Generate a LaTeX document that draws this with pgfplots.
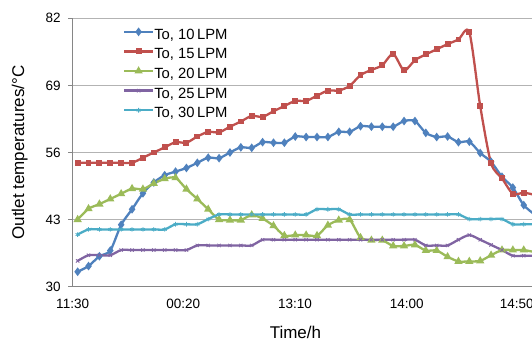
\documentclass[border=0pt]{standalone}
\usepackage{pgfplots}
\usepackage{pgfplotstable}
\pgfplotsset{compat=1.18}
\usepackage{fontspec}
\setmainfont{Liberation Sans}
\definecolor{cA}{HTML}{4F81BD}
\definecolor{cB}{HTML}{C0504D}
\definecolor{cC}{HTML}{9BBB59}
\definecolor{cD}{HTML}{8064A2}
\definecolor{cE}{HTML}{4BACC6}
\definecolor{axisgray}{HTML}{868686}
\definecolor{gridgray}{HTML}{B3B3B3}
\pgfplotstableread{
i  a     b     c     d     e
0  32.9  54.0  43.0  35.0  40.1
1  34.0  54.0  45.1  36.1  41.1
2  35.9  54.0  46.0  36.1  41.1
3  37.0  54.0  47.0  36.1  41.1
4  42.0  54.0  48.0  37.1  41.1
5  45.0  54.0  49.0  37.1  41.1
6  48.1  55.0  48.9  37.1  41.1
7  50.2  56.0  50.0  37.1  41.1
8  51.6  57.0  50.9  37.1  41.1
9  52.3  58.0  51.1  37.1  42.1
10 53.0  57.9  48.9  37.1  42.1
11 54.0  59.1  47.0  38.0  42.1
12 55.0  60.0  45.0  38.0  43.1
13 54.9  59.9  43.0  38.0  44.0
14 56.0  61.0  42.9  38.0  44.0
15 57.0  62.0  42.9  38.0  44.0
16 56.9  63.1  43.9  38.0  44.0
17 58.0  62.9  43.2  39.1  44.0
18 57.9  64.0  41.8  39.1  44.0
19 57.9  65.0  39.9  39.1  44.0
20 59.1  66.0  40.0  39.1  44.0
21 59.0  66.0  40.0  39.1  44.0
22 59.0  67.0  39.9  39.1  45.0
23 59.0  68.0  41.9  39.1  45.0
24 60.0  68.0  42.9  39.1  45.0
25 60.0  68.9  43.0  39.1  44.0
26 61.1  71.0  39.5  39.1  44.0
27 61.0  72.0  39.0  39.1  44.0
28 61.0  72.9  39.0  39.1  44.0
29 61.0  75.1  37.9  39.1  44.0
30 62.1  71.9  37.9  39.1  44.0
31 62.1  73.9  38.1  39.1  44.0
32 59.8  75.0  37.0  38.0  44.0
33 59.0  76.0  37.0  38.0  44.0
34 59.1  77.0  35.8  38.0  44.0
35 58.0  77.9  34.9  39.1  44.0
36 58.1  79.3  34.9  40.0  43.1
37 55.9  65.0  35.0  39.1  43.1
38 54.2  53.9  36.1  38.1  43.1
39 51.3  51.0  37.1  37.1  43.1
40 49.2  48.0  37.1  36.0  42.1
41 45.8  48.2  37.1  36.0  42.1
42 44.0  47.8  36.7  36.0  42.1
}\datatable
\begin{document}
\begin{tikzpicture}
\useasboundingbox (0pt,0pt) rectangle (532pt,343pt);
\clip (0pt,0pt) rectangle (532pt,343pt);
\begin{axis}[
  at={(72.2pt,56.3pt)}, anchor=south west,
  scale only axis, width=459.8pt, height=268.4pt,
  xmin=-0.5, xmax=41.76, ymin=30, ymax=82,
  ytick={30,43,56,69,82},
  xtick={-0.46,9.71,19.98,30.24,40.35},
  xticklabels={11:30,00:20,13:10,14:00,14:50},
  axis x line*=bottom, axis y line*=left,
  every outer x axis line/.append style={-},
  every outer y axis line/.append style={-},
  axis line style={draw=axisgray, line width=0.9pt},
  ymajorgrids, grid style={gridgray, line width=0.9pt},
  tick align=outside, major tick length=4pt,
  ytick style={axisgray, line width=0.9pt},
  xtick style={draw=none},
  /pgf/number format/assume math mode=true,
  tick label style={font=\fontsize{13.5}{16}\selectfont},
  yticklabel style={xshift=-4pt},
  xticklabel style={yshift=-5pt},
  xlabel={Time/h}, ylabel={Outlet temperatures/°C},
  every axis x label/.style={at={(axis description cs:0.4855,-0.169)}, anchor=center, font=\fontsize{17}{20}\selectfont},
  every axis y label/.style={at={(axis description cs:-0.114,0.5)}, anchor=center, rotate=90, font=\fontsize{17}{20}\selectfont},
  legend style={draw=none, fill=none, at={(axis description cs:0.1104,0.960)}, anchor=north west,
    inner sep=0pt, outer sep=0pt, font=\fontsize{14.8}{16}\selectfont,
    nodes={inner sep=0pt, text height=10.2pt, text depth=3pt},
    row sep=6.4pt, /tikz/every odd column/.append style={column sep=0pt}},
  legend cell align=left,
  legend image code/.code={\draw[mark repeat=2,mark phase=2,#1] plot coordinates {(0pt,3.8pt) (14.5pt,3.8pt) (29pt,3.8pt)};},
  every axis plot/.append style={line width=2.3pt, smooth, tension=0.45, mark options={solid}},
]
\addplot[cA, mark=diamond*, mark size=2.5pt] table[x=i,y=a] {\datatable};
\addlegendentry{To, 10\,LPM}
\addplot[cB, mark=square*, mark size=1.8pt] table[x=i,y=b] {\datatable};
\addlegendentry{To, 15\,LPM}
\addplot[cC, mark=triangle*, mark size=2.5pt] table[x=i,y=c] {\datatable};
\addlegendentry{To, 20\,LPM}
\addplot[cD, mark=x, mark size=2.3pt, mark options={line width=0.8pt}] table[x=i,y=d] {\datatable};
\addlegendentry{To, 25\,LPM}
\addplot[cE, mark=asterisk, mark size=2.3pt, mark options={line width=0.8pt}] table[x=i,y=e] {\datatable};
\addlegendentry{To, 30\,LPM}
\end{axis}
\end{tikzpicture}
\end{document}
